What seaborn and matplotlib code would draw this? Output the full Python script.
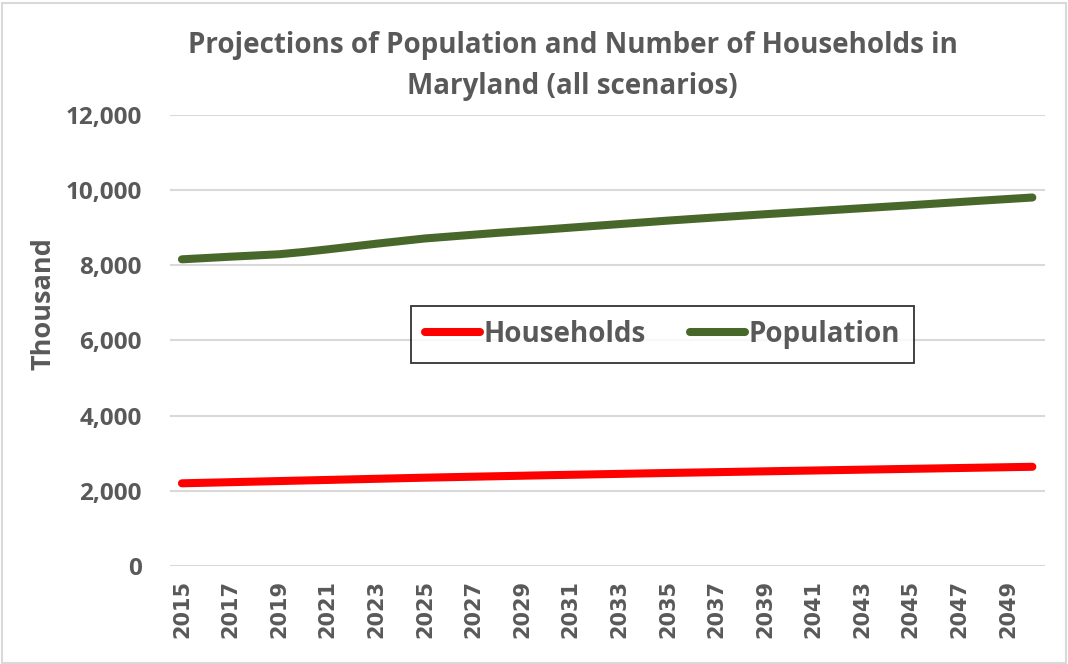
import numpy as np
import pandas as pd
import matplotlib
matplotlib.use("Agg")
import matplotlib.pyplot as plt
import seaborn as sns
from matplotlib.patches import Rectangle

# Annual projections, thousands
years = list(range(2015, 2051))
households = [2200, 2215, 2230, 2245, 2260, 2275, 2290, 2305, 2320, 2335,
              2350, 2363, 2376, 2389, 2402, 2415, 2427, 2439, 2451, 2463,
              2475, 2486, 2497, 2508, 2519, 2530, 2541, 2552, 2563, 2574,
              2585, 2596, 2607, 2618, 2629, 2640]
population = [8160, 8195, 8230, 8262, 8295, 8355, 8425, 8500, 8575, 8645,
              8715, 8765, 8815, 8865, 8910, 8955, 9003, 9050, 9097, 9143,
              9190, 9233, 9276, 9318, 9360, 9400, 9440, 9480, 9520, 9560,
              9600, 9642, 9684, 9725, 9765, 9805]
series_names = ["Households", "Population"]
series_colors = ["#FF0000", "#48682B"]
title_text = "Projections of Population and Number of Households in\nMaryland (all scenarios)"
y_label = "Thousand"
y_ticks = [0, 2000, 4000, 6000, 8000, 10000, 12000]

df = pd.DataFrame({
    "pos": list(range(len(years))) * 2,
    "value": households + population,
    "series": [series_names[0]] * len(years) + [series_names[1]] * len(years),
})

sns.set_theme(style="white")
main_font = ["Open Sans", "DejaVu Sans"]
plt.rcParams["font.family"] = main_font
text_gray = "#595959"

fig = plt.figure(figsize=(10.68, 6.64), dpi=100)
ax = fig.add_axes([0.159, 0.1476, 0.819, 0.6792])

sns.lineplot(data=df, x="pos", y="value", hue="series",
             palette=dict(zip(series_names, series_colors)),
             linewidth=5.8, ax=ax, legend=False,
             solid_capstyle="round")

ax.set_xlim(-0.5, len(years) - 0.5)
ax.set_ylim(0, 12000)
ax.set_yticks(y_ticks)
ax.set_yticklabels([f"{v:,}" for v in y_ticks], fontsize=17.5,
                   fontweight="bold", color=text_gray)
ax.set_xticks(range(0, len(years), 2))
ax.set_xticklabels([str(years[i]) for i in range(0, len(years), 2)],
                   rotation=90, fontsize=15, fontweight="bold",
                   color=text_gray, family="DejaVu Sans")
ax.tick_params(axis="both", length=0)
ax.tick_params(axis="y", pad=20)
ax.tick_params(axis="x", pad=10)
ax.set_xlabel("")
ax.set_ylabel(y_label, fontsize=19.5, fontweight="bold", color=text_gray)
ax.yaxis.set_label_coords(-0.129, 0.583)

ax.yaxis.grid(True, color="#D9D9D9", linewidth=1.5)
ax.xaxis.grid(False)
for s in ax.spines.values():
    s.set_visible(False)

fig.text(0.536, 0.9, title_text, ha="center", va="center",
         fontsize=20, fontweight="bold", color=text_gray,
         linespacing=1.55)

handles = [plt.Line2D([], [], color=c, linewidth=5.8, solid_capstyle="round")
           for c in series_colors]
leg = ax.legend(handles, series_names, loc="center",
                bbox_to_anchor=(0.563, 0.514), ncol=2, frameon=True,
                fancybox=False, handlelength=2.0, handletextpad=0.1,
                columnspacing=1.6, borderpad=0.5,
                prop={"family": main_font, "weight": "bold", "size": 20})
leg.get_frame().set_edgecolor("black")
leg.get_frame().set_linewidth(1.3)
for t in leg.get_texts():
    t.set_color(text_gray)

fig.patches.append(Rectangle((0.002, 0.002), 0.996, 0.994,
                             transform=fig.transFigure, fill=False,
                             edgecolor="#D9D9D9", linewidth=1.5))

fig.savefig("out.png", dpi=100)
